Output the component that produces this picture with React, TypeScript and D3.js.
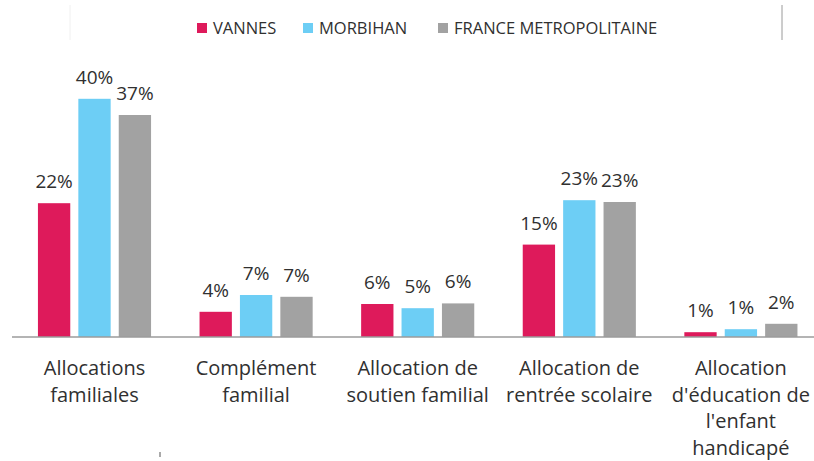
import React from "react";
import * as d3 from "d3";

const categories = [
  "Allocations familiales",
  "Complément familial",
  "Allocation de soutien familial",
  "Allocation de rentrée scolaire",
  "Allocation d'éducation de l'enfant handicapé",
];
const categoryLines = [
  ["Allocations", "familiales"],
  ["Complément", "familial"],
  ["Allocation de", "soutien familial"],
  ["Allocation de", "rentrée scolaire"],
  ["Allocation", "d'éducation de", "l'enfant", "handicapé"],
];
const seriesNames = ["VANNES", "MORBIHAN", "FRANCE METROPOLITAINE"];
const vannes = [22.3, 4.2, 5.5, 15.4, 0.8];
const morbihan = [39.7, 7.0, 4.8, 22.8, 1.3];
const france = [37.0, 6.7, 5.6, 22.5, 2.2];
const colors = ["#DE1A5B", "#6DCEF5", "#A2A2A2"];
const legendX = [197, 303, 438];

const W = 814;
const H = 461;
const baseY = 337;
const FONT = "'Open Sans', 'Noto Sans', sans-serif";
const TEXT = "#303030";

export default function App() {
  const seriesValues = [vannes, morbihan, france];
  const x0 = d3
    .scaleBand<string>()
    .domain(categories)
    .range([13.7, 821.7])
    .paddingInner(0.3)
    .paddingOuter(0.15);
  const x1 = d3
    .scaleBand<string>()
    .domain(seriesNames)
    .range([0, x0.bandwidth()])
    .paddingInner(0.2);
  const y = d3.scaleLinear().domain([0, 50]).range([baseY, baseY - 300]);

  return (
    <svg
      width={W}
      height={H}
      style={{ position: "absolute", left: 0, top: 0, background: "#fff" }}
      fontFamily={FONT}
    >
      <rect x={0} y={0} width={W} height={H} fill="#fff" />
      <line x1={782} x2={782} y1={5} y2={40} stroke="#9a9a9a" strokeWidth={1} />
      <line x1={70} x2={70} y1={5} y2={40} stroke="#f0f0f0" strokeWidth={1} />

      {seriesNames.map((s, i) => (
        <g key={s} transform={`translate(${legendX[i]},0)`}>
          <rect x={0} y={23} width={10} height={10} fill={colors[i]} />
          <text x={16} y={34} fontSize={16.5} fill={TEXT}>
            {s}
          </text>
        </g>
      ))}

      {categories.map((c, ci) => (
        <g key={c} transform={`translate(${x0(c)},0)`}>
          {seriesNames.map((s, si) => {
            const v = seriesValues[si][ci];
            const bx = x1(s) as number;
            return (
              <g key={s}>
                <rect
                  x={bx}
                  y={y(v)}
                  width={x1.bandwidth()}
                  height={baseY - y(v)}
                  fill={colors[si]}
                />
                <text
                  x={bx + x1.bandwidth() / 2}
                  y={y(v) - 15}
                  textAnchor="middle"
                  fontSize={19}
                  fill={TEXT}
                >
                  {`${Math.round(v)}%`}
                </text>
              </g>
            );
          })}
        </g>
      ))}

      <line x1={12} x2={W} y1={baseY} y2={baseY} stroke="#9b9b9b" strokeWidth={1.5} />

      {categories.map((c, ci) => (
        <text
          key={c}
          x={(x0(c) as number) + x0.bandwidth() / 2}
          y={375}
          textAnchor="middle"
          fontSize={20}
          fill={TEXT}
        >
          {categoryLines[ci].map((ln, li) => (
            <tspan key={li} x={(x0(c) as number) + x0.bandwidth() / 2} dy={li === 0 ? 0 : 26.5}>
              {ln}
            </tspan>
          ))}
        </text>
      ))}
      <line x1={160} x2={160} y1={452} y2={457} stroke="#555" strokeWidth={1} />
    </svg>
  );
}
